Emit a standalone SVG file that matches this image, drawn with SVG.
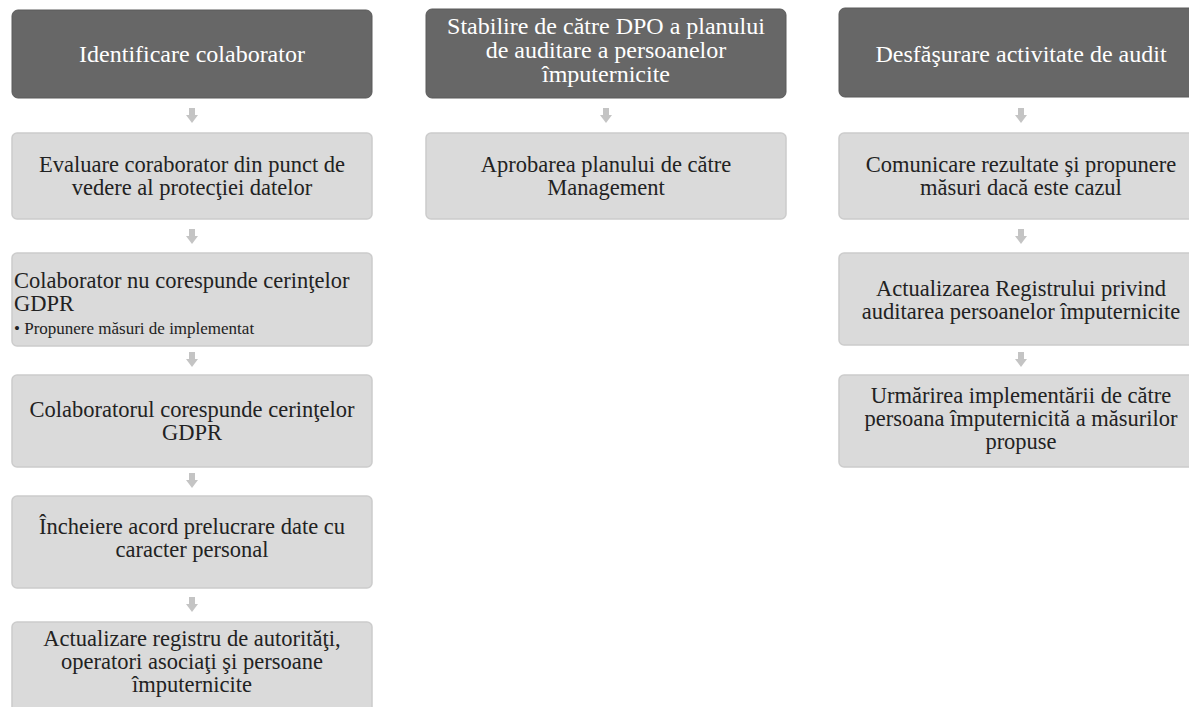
<svg xmlns="http://www.w3.org/2000/svg" width="1189" height="707" viewBox="0 0 1189 707">
<style>
.hdr{fill:#676767;stroke:#5a5a5a;stroke-width:1}
.box{fill:#dadada;stroke:#cccccc;stroke-width:1.5}
.ht{font-family:"Liberation Serif","Times New Roman",serif;font-size:24px;fill:#ffffff;text-anchor:middle}
.bt{font-family:"Liberation Serif","Times New Roman",serif;font-size:22.5px;fill:#222222;text-anchor:middle}
.bl{font-family:"Liberation Serif","Times New Roman",serif;font-size:22.5px;fill:#222222}
.sm{font-family:"Liberation Serif","Times New Roman",serif;font-size:17px;fill:#222222}
.arr{fill:#c4c4c4}
</style>
<defs>
<path id="a" d="M-3,-8 L3,-8 L3,-1 L6,-1 L0,7 L-6,-1 L-3,-1 Z"/>
</defs>
<rect width="1189" height="707" fill="#ffffff"/>

<g id="connectors" class="arr">
<use href="#a" x="192" y="116"/>
<use href="#a" x="192" y="237"/>
<use href="#a" x="192" y="360"/>
<use href="#a" x="192" y="481"/>
<use href="#a" x="192" y="605"/>
<use href="#a" x="606" y="116"/>
<use href="#a" x="1021" y="116"/>
<use href="#a" x="1021" y="237"/>
<use href="#a" x="1021" y="360"/>
</g>

<g id="c1h"><rect class="hdr" x="12" y="10" width="360" height="88" rx="6"/><text class="ht" x="192" y="62">Identificare colaborator</text></g>
<g id="c1b1"><rect class="box" x="12" y="133" width="360" height="86" rx="5"/><text class="bt" x="192" y="172">Evaluare coraborator din punct de</text><text class="bt" x="192" y="195">vedere al protecţiei datelor</text></g>
<g id="c1b2"><rect class="box" x="12" y="253" width="360" height="93" rx="5"/><text class="bl" x="14" y="288">Colaborator nu corespunde cerinţelor</text><text class="bl" x="14" y="311">GDPR</text><text class="sm" x="14" y="334">• Propunere măsuri de implementat</text></g>
<g id="c1b3"><rect class="box" x="12" y="375" width="360" height="92" rx="5"/><text class="bt" x="192" y="417">Colaboratorul corespunde cerinţelor</text><text class="bt" x="192" y="440">GDPR</text></g>
<g id="c1b4"><rect class="box" x="12" y="496" width="360" height="92" rx="5"/><text class="bt" x="192" y="534">Încheiere acord prelucrare date cu</text><text class="bt" x="192" y="557">caracter personal</text></g>
<g id="c1b5"><rect class="box" x="12" y="622" width="360" height="100" rx="5"/><text class="bt" x="192" y="646">Actualizare registru de autorităţi,</text><text class="bt" x="192" y="669">operatori asociaţi şi persoane</text><text class="bt" x="192" y="692">împuternicite</text></g>

<g id="c2h"><rect class="hdr" x="426" y="9" width="360" height="89" rx="6"/><text class="ht" x="606" y="34">Stabilire de către DPO a planului</text><text class="ht" x="606" y="58">de auditare a persoanelor</text><text class="ht" x="606" y="82">împuternicite</text></g>
<g id="c2b1"><rect class="box" x="426" y="133" width="360" height="86" rx="5"/><text class="bt" x="606" y="172">Aprobarea planului de către</text><text class="bt" x="606" y="195">Management</text></g>

<g id="c3h"><rect class="hdr" x="839" y="8" width="366" height="89" rx="6"/><text class="ht" x="1021" y="62">Desfăşurare activitate de audit</text></g>
<g id="c3b1"><rect class="box" x="839" y="133" width="366" height="86" rx="5"/><text class="bt" x="1021" y="172">Comunicare rezultate şi propunere</text><text class="bt" x="1021" y="195">măsuri dacă este cazul</text></g>
<g id="c3b2"><rect class="box" x="839" y="253" width="366" height="92" rx="5"/><text class="bt" x="1021" y="296">Actualizarea Registrului privind</text><text class="bt" x="1021" y="319">auditarea persoanelor împuternicite</text></g>
<g id="c3b3"><rect class="box" x="839" y="375" width="366" height="92" rx="5"/><text class="bt" x="1021" y="403">Urmărirea implementării de către</text><text class="bt" x="1021" y="426">persoana împuternicită a măsurilor</text><text class="bt" x="1021" y="449">propuse</text></g>
</svg>
